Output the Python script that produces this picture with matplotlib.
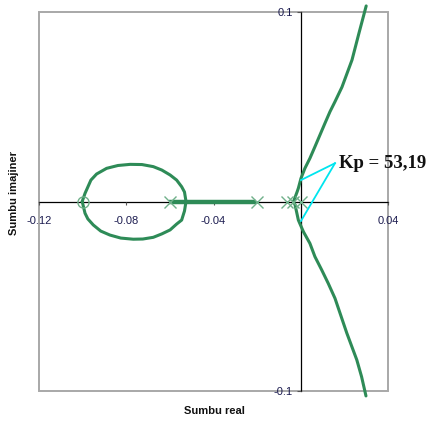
import matplotlib
matplotlib.use("Agg")
import matplotlib.pyplot as plt
from matplotlib.patches import Rectangle

# Root locus data
upper_x = [-0.0033, -0.0017, -0.0011, 0.0001, 0.0019, 0.0042, 0.0065, 0.0088, 0.0111,
           0.0134, 0.0157, 0.0189, 0.0235, 0.0267, 0.0300]
upper_y = [0.0, 0.0050, 0.0070, 0.0122, 0.0175, 0.0228, 0.0289, 0.0351, 0.0413,
           0.0474, 0.0527, 0.0604, 0.0747, 0.0889, 0.1032]
lower_x = [-0.0033, -0.0026, -0.0011, 0.0012, 0.0042, 0.0065, 0.0096, 0.0126, 0.0157,
           0.0211, 0.0257, 0.0279, 0.0299]
lower_y = [0.0, -0.0018, -0.0098, -0.0159, -0.0221, -0.0291, -0.0361, -0.0432, -0.0511,
           -0.0694, -0.0836, -0.0925, -0.1026]
loop_x = [-0.1002, -0.0989, -0.0962, -0.0936, -0.0890, -0.0838, -0.0782, -0.0728, -0.0676,
          -0.0637, -0.0599, -0.0569, -0.0546, -0.0533, -0.0526,
          -0.0533, -0.0546, -0.0569, -0.0599, -0.0637, -0.0676, -0.0724, -0.0768,
          -0.0825, -0.0875, -0.0917, -0.0951, -0.0976, -0.0989, -0.1002]
loop_y = [0.0, 0.0043, 0.0113, 0.0145, 0.0175, 0.0190, 0.0196, 0.0195, 0.0184,
          0.0166, 0.0140, 0.0113, 0.0078, 0.0050, 0.0,
          -0.0050, -0.0098, -0.0119, -0.0150, -0.0171, -0.0189, -0.0198, -0.0199,
          -0.0193, -0.0177, -0.0156, -0.0124, -0.0092, -0.0062, 0.0]
real_seg_x = [-0.0605, -0.0205]
real_seg_y = [0.0, 0.0]
poles_x = [-0.06, -0.02, -0.0065, -0.0035, 0.0]
poles_y = [0.0, 0.0, 0.0, 0.0, 0.0]
zeros_x = [-0.1]
zeros_y = [0.0]
kp_label = "Kp = 53,19"
kp_anchor = (0.0157, 0.0202)
kp_text_pos = (0.0175, 0.0177)
kp_points_x = [0.0001, 0.0001]
kp_points_y = [0.0113, -0.0103]
xticks = [-0.12, -0.08, -0.04, 0.04]
xtick_labels = ["-0.12", "-0.08", "-0.04", "0.04"]
yticks = [-0.1, 0.1]
ytick_labels = ["-0.1", "0.1"]

green = "#2e8b57"
light_green = "#6fb08a"
cyan = "#00e5ee"
tick_color = "#1c1c50"

fig = plt.figure(figsize=(4.3, 4.21), dpi=100)
fig.patch.set_facecolor("white")
ax = fig.add_axes([39/430, 1 - 391/421, 349/430, 379/421])
ax.set_xlim(-0.12, 0.04)
ax.set_ylim(-0.1, 0.1)

for s in ["top", "right"]:
    ax.spines[s].set_visible(False)
ax.spines["left"].set_position(("data", 0))
ax.spines["bottom"].set_position(("data", 0))
ax.spines["left"].set_color("black")
ax.spines["bottom"].set_color("black")
ax.spines["left"].set_linewidth(0.9)
ax.spines["bottom"].set_linewidth(0.9)
ax.spines["left"].set_zorder(1)
ax.spines["bottom"].set_zorder(1)

ax.add_patch(Rectangle((0, 0), 1, 1, transform=ax.transAxes, fill=False,
                       edgecolor="#a8a8a8", linewidth=1.4, clip_on=False, zorder=0.5))

ax.set_xticks(xticks)
ax.set_xticklabels(xtick_labels, family="Liberation Sans", fontsize=8, color=tick_color)
ax.set_yticks(yticks)
ax.set_yticklabels(ytick_labels, family="Liberation Sans", fontsize=8, color=tick_color)
ax.tick_params(axis="x", direction="out", length=2.5, pad=8, color="#555555", width=0.8)
ax.tick_params(axis="y", direction="out", length=3, pad=2.5, color="#555555", width=0.8)

lw = 2.2
common = dict(color=green, lw=lw, clip_on=False, zorder=3,
              solid_joinstyle="round", solid_capstyle="round")
ax.plot(loop_x, loop_y, **common)
ax.plot(real_seg_x, real_seg_y, color=green, lw=3.2, clip_on=False, zorder=3, solid_capstyle="butt")
ax.plot(upper_x, upper_y, **common)
ax.plot(lower_x, lower_y, **common)
ax.plot(poles_x, poles_y, linestyle="none", marker="x", markersize=9, mew=1.0,
        color=light_green, zorder=4, clip_on=False)
ax.plot(zeros_x, zeros_y, linestyle="none", marker="o", markersize=8, mew=1.0,
        markerfacecolor="none", markeredgecolor=light_green, zorder=4, clip_on=False)

for px, py in zip(kp_points_x, kp_points_y):
    ax.plot([kp_anchor[0], px], [kp_anchor[1], py], color=cyan, lw=1.3, zorder=5, clip_on=False)

ax.text(kp_text_pos[0], kp_text_pos[1], kp_label, family="Liberation Serif",
        fontweight="bold", fontsize=13.5, va="baseline", ha="left", color="#111111", clip_on=False)

fig.text(14/430, 1 - 193/421, "Sumbu imajiner", rotation=90, family="Liberation Sans",
         fontweight="bold", fontsize=8, ha="center", va="center", color="#111111")
fig.text(214/430, 1 - 411/421, "Sumbu real", family="Liberation Sans",
         fontweight="bold", fontsize=8, ha="center", va="center", color="#111111")

fig.savefig("out.png", dpi=100)
